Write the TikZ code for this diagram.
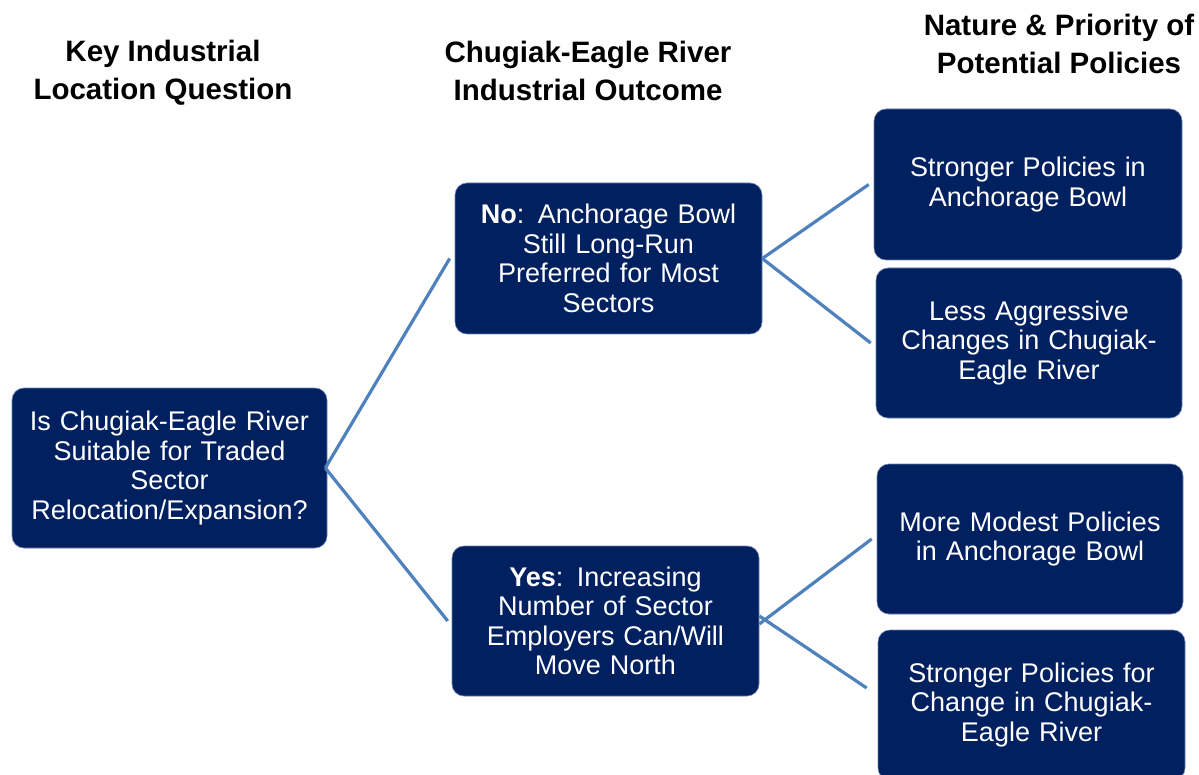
\documentclass[tikz,border=0pt]{standalone}
\usepackage{fontspec}
\setmainfont{Liberation Sans}
\definecolor{boxnavy}{RGB}{0,32,96}
\definecolor{boxedge}{RGB}{110,130,175}
\definecolor{linkblue}{RGB}{79,129,189}
\begin{document}
\begin{tikzpicture}[x=1pt,y=-1pt,
  pbox/.style={rectangle, rounded corners=12pt, fill=boxnavy, draw=boxedge, line width=0.6pt,
    text=white, align=center, inner sep=0pt,
    font=\fontsize{27}{29.5}\selectfont},
  head/.style={align=center, inner sep=0pt, font=\bfseries\fontsize{29.5}{38}\selectfont},
  link/.style={draw=linkblue, line width=3.2pt}]
\useasboundingbox (0,0) rectangle (1199,775);
\clip (0,0) rectangle (1199,775);
% headers
\node[head] (h1) at (163,73) {Key Industrial\\Location Question};
\node[head] (h2) at (588,71) {Chugiak-Eagle River\\Industrial Outcome};
\node[head] (h3) at (1059,44) {Nature \& Priority of\\Potential Policies};
% boxes
\node[pbox, minimum width=315pt, minimum height=160pt, text width=300pt] (q) at (169.5,468)
  {Is Chugiak-Eagle River\\Suitable for Traded\\Sector\\Relocation/Expansion?};
\node[pbox, minimum width=307pt, minimum height=151pt, text width=295pt] (no) at (608.5,258.5)
  {\textbf{No}: Anchorage Bowl\\Still Long-Run\\Preferred for Most\\Sectors};
\node[pbox, minimum width=307pt, minimum height=150pt, text width=295pt] (yes) at (605.5,621)
  {\textbf{Yes}: Increasing\\Number of Sector\\Employers Can/Will\\Move North};
\node[pbox, minimum width=308pt, minimum height=151pt, text width=295pt] (b1) at (1028,184.5)
  {Stronger Policies in\\Anchorage Bowl};
\node[pbox, minimum width=306pt, minimum height=150pt, text width=295pt] (b2) at (1029,343)
  {Less Aggressive\\Changes in Chugiak-\\Eagle River};
\node[pbox, minimum width=306pt, minimum height=150pt, text width=295pt] (b3) at (1030,539)
  {More Modest Policies\\in Anchorage Bowl};
\node[pbox, minimum width=307pt, minimum height=150pt, text width=295pt] (b4) at (1031.5,705)
  {Stronger Policies for\\Change in Chugiak-\\Eagle River};
% connectors
\draw[link] ([xshift=-2pt]q.east) -- ([xshift=-5pt]no.west);
\draw[link] ([xshift=-2pt]q.east) -- ([xshift=-4pt]yes.west);
\draw[link] (no.east) -- ([xshift=-5pt]b1.west);
\draw[link] (no.east) -- ([xshift=-5pt]b2.west);
\draw[link] ([yshift=-3pt]yes.east) -- ([xshift=-5pt]b3.west);
\draw[link] ([yshift=5pt]yes.east) -- ([xshift=-11pt,yshift=17pt]b4.west);
\end{tikzpicture}
\end{document}
